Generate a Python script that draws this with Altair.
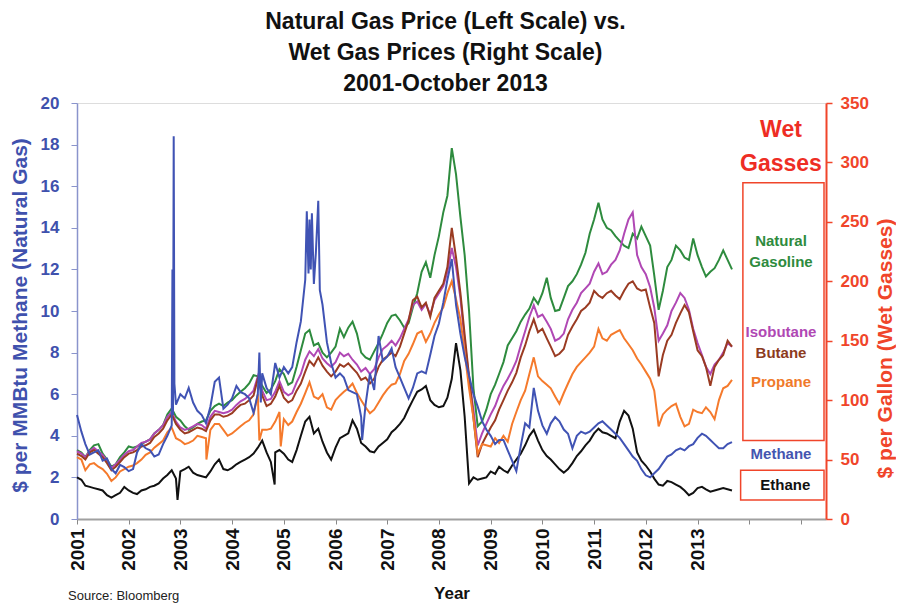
import altair as alt
import pandas as pd

# ---------------- data ----------------
# monthly observations, Jan 2001 .. Sep 2013
months = pd.date_range("2001-01-01", periods=153, freq="MS")

# $ per MMBtu (left scale)
methane = [
    5.0, 4.2, 3.6, 3.1, 3.2, 3.3, 2.8, 2.9, 2.4, 2.2,
    2.6, 2.5, 2.3, 2.4, 3.2, 3.6, 3.4, 3.3, 3.0, 3.1,
    3.6, 4.0, 4.5, 5.5, 6.0, 5.8, 6.3, 5.6, 5.2, 5.0,
    4.6, 5.4, 6.6, 6.8, 5.3, 5.5, 5.8, 6.4, 6.1, 6.0,
    5.8, 5.1, 6.0, 7.0, 6.3, 6.0, 7.5, 6.8, 7.3, 7.0,
    7.3, 8.5, 9.5, 11.5, 14.4, 11.3, 15.3, 10.3, 8.5, 7.5,
    6.8, 7.0, 6.8, 6.2, 6.1, 6.0, 4.9, 5.5, 7.0, 6.2,
    8.8, 7.6, 7.8, 8.2, 7.3, 6.8, 6.3, 5.8, 6.3, 7.0,
    7.1, 7.0, 7.9, 8.8, 9.4, 10.4, 11.5, 12.5, 10.3, 8.9,
    7.8, 6.9, 6.0, 5.4, 4.7, 4.3, 4.0, 3.6, 3.8, 3.8,
    3.3, 2.8, 2.3, 3.5, 4.6, 4.4, 6.3, 5.2, 4.5, 4.1,
    4.6, 4.9, 4.7, 4.3, 4.1, 3.4, 4.0, 4.2, 4.1, 4.2,
    4.4, 4.6, 4.7, 4.5, 4.3, 4.1, 3.9, 3.6, 3.3, 3.0,
    2.8, 2.4, 2.1, 2.0, 2.2, 2.4, 2.7, 3.0, 3.1, 3.3,
    3.4, 3.3, 3.5, 3.6, 3.9, 4.1, 4.0, 3.8, 3.6, 3.4,
    3.4, 3.6, 3.7,
]
methane_extra_dates = ["2002-11-06", "2002-11-10", "2002-11-15", "2002-11-20",
                       "2004-07-12", "2004-07-22", "2005-06-12", "2005-06-24",
                       "2005-07-10", "2005-07-18", "2005-08-15", "2005-09-12",
                       "2006-07-08"]
methane_extra_values = [12.0, 5.0, 18.4, 6.5,
                        8.0, 5.6, 14.8, 11.8,
                        12.0, 14.7, 12.8, 11.0,
                        3.8]

# cents per gallon (right scale)
ethane = [
    35, 33, 28, 27, 26, 25, 24, 20, 18, 20,
    22, 27, 24, 22, 21, 24, 25, 27, 28, 30,
    34, 37, 41, 34, 40, 42, 44, 39, 37, 36,
    35, 40, 46, 50, 42, 41, 43, 46, 48, 50,
    52, 55, 60, 66, 56, 48, 56, 58, 55, 50,
    48, 58, 70, 82, 86, 72, 76, 65, 56, 50,
    60, 68, 70, 72, 83, 76, 64, 61, 57, 56,
    61, 64, 67, 73, 76, 80, 85, 93, 100, 107,
    109, 112, 100, 96, 94, 95, 102, 118, 148, 125,
    86, 30, 35, 33, 34, 35, 40, 38, 44, 41,
    39, 45, 50, 55, 62, 70, 75, 66, 58, 53,
    50, 46, 42, 39, 42, 47, 53, 57, 62, 66,
    72, 76, 73, 72, 70, 68, 82, 91, 87, 76,
    56, 49, 45, 40, 34, 29, 28, 32, 31, 29,
    27, 24, 20, 22, 26, 27, 25, 23, 24, 25,
    26, 25, 24,
]
ethane_extra_dates = ["2002-12-12", "2004-10-28"]
ethane_extra_values = [16, 29]

propane = [
    52, 50, 41, 46, 47, 44, 42, 38, 32, 35,
    40, 42, 44, 45, 47, 50, 54, 56, 60, 63,
    66, 73, 77, 68, 66, 63, 64, 66, 70, 69,
    68, 75, 80, 80, 75, 70, 72, 75, 78, 81,
    83, 88, 105, 75, 75, 76, 82, 90, 84, 79,
    82, 90, 97, 106, 115, 103, 101, 105, 94, 92,
    100, 104, 107, 110, 114, 106, 100, 94, 89, 92,
    98, 104, 109, 113, 114, 122, 133, 139, 147, 156,
    158, 149, 156, 165, 172, 178, 190, 200, 185, 168,
    140, 110, 85, 55, 63, 62, 61, 68, 64, 70,
    65, 80, 90, 100, 108, 122, 136, 120, 116, 113,
    110, 103, 97, 106, 114, 122, 128, 132, 136, 140,
    145, 160, 152, 150, 155, 157, 159, 152, 147, 142,
    135, 130, 124, 118, 108, 78, 88, 92, 95, 97,
    86, 78, 80, 92, 90, 89, 94, 90, 84, 100,
    110, 112, 117,
]
propane_extra_dates = ["2003-07-04", "2004-07-12", "2004-12-10"]
propane_extra_values = [50, 66, 61]

butane = [
    55, 53, 50, 56, 58, 55, 52, 47, 41, 44,
    48, 52, 55, 56, 58, 61, 62, 64, 69, 72,
    76, 83, 88, 80, 75, 72, 73, 75, 77, 76,
    74, 83, 88, 88, 86, 87, 89, 93, 96, 97,
    100, 104, 118, 104, 95, 97, 103, 112, 102, 98,
    100, 108, 114, 124, 133, 129, 136, 129, 124, 120,
    124, 130, 128, 131, 127, 123, 117, 119, 114, 118,
    128, 134, 137, 140, 137, 145, 156, 167, 184, 187,
    178, 182, 170, 186, 192, 198, 212, 245, 220, 190,
    155, 120, 85, 52, 63, 70, 77, 83, 92, 100,
    108, 115, 123, 136, 146, 158, 168, 157, 160, 152,
    145, 137, 139, 143, 155, 162, 168, 175, 178, 182,
    192, 188, 186, 190, 192, 188, 185, 192, 198, 200,
    194, 192, 193, 178, 165, 120, 138, 150, 155, 165,
    173, 180, 174, 158, 142, 137, 128, 112, 128, 134,
    138, 150, 145,
]

isobutane = [
    57, 55, 52, 57, 60, 57, 54, 49, 43, 46,
    50, 54, 57, 58, 61, 64, 65, 67, 72, 75,
    79, 86, 90, 82, 77, 75, 76, 78, 80, 79,
    76, 86, 91, 90, 89, 90, 92, 96, 99, 101,
    104, 108, 120, 108, 100, 101, 107, 116, 107, 104,
    106, 115, 122, 134, 141, 137, 143, 135, 131, 128,
    132, 140, 137, 139, 134, 130, 124, 127, 122, 126,
    136, 143, 146, 150, 146, 152, 160, 168, 180, 183,
    176, 181, 172, 184, 190, 196, 208, 228, 212, 186,
    150, 118, 92, 62, 72, 80, 88, 95, 104, 112,
    118, 125, 133, 146, 158, 170, 180, 170, 172, 166,
    160, 150, 152, 156, 168, 176, 182, 190, 194, 198,
    208, 215, 206, 208, 214, 218, 226, 240, 252, 258,
    222, 212, 206, 195, 178, 150, 156, 163, 175, 182,
    190, 186, 176, 160, 148, 138, 128, 122, 130, 134,
    140, 148, 145,
]

natural_gasoline = [
    58, 56, 52, 58, 62, 63, 55, 50, 44, 46,
    52, 56, 61, 60, 61, 63, 65, 67, 72, 75,
    79, 88, 93, 86, 83, 78, 75, 77, 80, 82,
    83, 91, 95, 97, 95, 98, 100, 104, 107, 110,
    114, 121, 120, 112, 106, 109, 116, 126, 122, 113,
    115, 128, 142, 156, 159, 146, 148, 140, 136, 140,
    145, 160, 153, 161, 166, 156, 140, 136, 134, 141,
    148, 156, 165, 171, 172, 167, 161, 165, 178, 190,
    208, 216, 203, 222, 238, 258, 272, 312, 290, 254,
    222, 175, 110, 78, 82, 92, 105, 113, 122, 132,
    146, 152, 158, 166, 172, 177, 186, 181, 190, 203,
    186, 175, 176, 186, 196, 200, 206, 214, 224, 240,
    252, 266, 252, 245, 243, 238, 234, 230, 228, 240,
    236, 246, 238, 230, 205, 176, 192, 212, 218, 230,
    226, 220, 218, 236, 222, 212, 204, 208, 211, 218,
    226, 218, 210,
]

# legend-style labels on the right (right-scale positions)
label_texts = ["Natural", "Gasoline", "Isobutane", "Butane", "Propane", "Methane", "Ethane"]
label_values = [234, 216, 157, 140, 115, 55, 29]
label_dates = ["2014-08-13"] * 6 + ["2014-09-12"]
label_colors = ["#2e8b3e", "#2e8b3e", "#b048b4", "#8c3b1e", "#f07a2a", "#4455b0", "#111111"]

heading_texts = ["Wet", "Gasses"]
heading_values = [327, 299]

box_starts = ["2013-11-17", "2013-11-01"]
box_ends = ["2015-06-13", "2015-06-13"]
box_tops = [283, 41]
box_bottoms = [66, 16]

years = list(range(2001, 2016))

# ---------------- styling ----------------
BLUE = "#3f51ad"
RED = "#f0452a"
FONT = "Liberation Sans"


def frame(values, extra_dates=(), extra_values=()):
    d = pd.DataFrame({
        "date": list(months) + [pd.Timestamp(s) for s in extra_dates],
        "value": list(values) + list(extra_values),
    })
    return d.sort_values("date").reset_index(drop=True)


x_enc = alt.X(
    "date:T",
    scale=alt.Scale(domain=[alt.DateTime(year=2001, month=1, date=1),
                            alt.DateTime(year=2015, month=6, date=27)]),
    axis=alt.Axis(
        values=[alt.DateTime(year=y, month=1, date=1) for y in years],
        labelExpr="year(datum.value) <= 2013 ? timeFormat(datum.value, '%Y') : ''",
        labelAngle=-90, labelFont=FONT, labelFontWeight="bold", labelFontSize=19,
        labelColor="#111111", labelPadding=4, tickSize=5, tickColor="#888888",
        domainColor="#a0a0a0", domainWidth=2, grid=False,
        title="Year", titleFont=FONT, titleFontSize=17, titleFontWeight="bold",
        titleColor="#111111", titlePadding=15,
    ),
)

y_right = alt.Y(
    "value:Q",
    scale=alt.Scale(domain=[0, 350], nice=False),
    axis=alt.Axis(
        orient="right", values=list(range(0, 351, 50)), grid=False,
        labelFont=FONT, labelFontWeight="bold", labelFontSize=17, labelColor=RED,
        labelPadding=8, tickSize=6, tickColor=RED, tickWidth=1.5,
        domainColor=RED, domainWidth=2,
        title="$ per Gallon (Wet Gasses)", titleFont=FONT, titleFontSize=21,
        titleFontWeight="bold", titleColor=RED, titleAngle=270,
        titleBaseline="top", titlePadding=6, titleY=245,
    ),
)

y_left = alt.Y(
    "value:Q",
    scale=alt.Scale(domain=[0, 20], nice=False),
    axis=alt.Axis(
        orient="left", values=list(range(0, 21, 2)), grid=False,
        labelFont=FONT, labelFontWeight="bold", labelFontSize=17, labelColor=BLUE,
        labelPadding=12, tickSize=6, tickColor="#8a94cc",
        domainColor="#8a94cc", domainWidth=1.5,
        title="$ per MMBtu Methane (Natural Gas)", titleFont=FONT, titleFontSize=21,
        titleFontWeight="bold", titleColor=BLUE, titlePadding=10, titleY=212,
    ),
)


def wet_line(values, color, extra_dates=(), extra_values=()):
    return alt.Chart(frame(values, extra_dates, extra_values)).mark_line(
        color=color, strokeWidth=2, interpolate="linear"
    ).encode(x=x_enc, y=y_right)


green_line = wet_line(natural_gasoline, "#2e8b3e")
purple_line = wet_line(isobutane, "#b048b4")
brown_line = wet_line(butane, "#9a3b22")
orange_line = wet_line(propane, "#f57a2c", propane_extra_dates, propane_extra_values)
black_line = wet_line(ethane, "#111111", ethane_extra_dates, ethane_extra_values)

labels_df = pd.DataFrame({
    "date": [pd.Timestamp(s) for s in label_dates],
    "value": label_values, "text": label_texts, "color": label_colors,
})
labels = alt.Chart(labels_df).mark_text(
    font=FONT, fontWeight="bold", fontSize=15, align="center", baseline="middle"
).encode(x=x_enc, y=y_right, text="text:N", color=alt.Color("color:N", scale=None))

heading_df = pd.DataFrame({
    "date": [pd.Timestamp("2014-08-13")] * 2, "value": heading_values, "text": heading_texts,
})
heading = alt.Chart(heading_df).mark_text(
    font=FONT, fontWeight="bold", fontSize=23, align="center", baseline="middle", color="#ee2d24"
).encode(x=x_enc, y=y_right, text="text:N")

boxes_df = pd.DataFrame({
    "date": [pd.Timestamp(s) for s in box_starts],
    "date2": [pd.Timestamp(s) for s in box_ends],
    "value": box_tops, "value2": box_bottoms,
})
boxes = alt.Chart(boxes_df).mark_rect(
    filled=False, stroke=RED, strokeWidth=1.5
).encode(x=x_enc, x2="date2:T", y=y_right, y2="value2:Q")

wet = alt.layer(green_line, purple_line, brown_line, orange_line, black_line,
                boxes, labels, heading)

methane_line = alt.Chart(frame(methane, methane_extra_dates, methane_extra_values)).mark_line(
    color="#4053b4", strokeWidth=2
).encode(x=x_enc, y=y_left)

source = alt.Chart(pd.DataFrame({"t": ["Source: Bloomberg"]})).mark_text(
    font=FONT, fontSize=13, align="left", baseline="middle", color="#222222"
).encode(x=alt.value(-9), y=alt.value(493), text="t:N")

chart = alt.layer(wet, methane_line, source).resolve_scale(y="independent").properties(
    width=749, height=416,
    autosize=alt.AutoSizeParams(type="none"),
    padding={"left": 69, "top": 95, "right": 70, "bottom": 84},
    title=alt.TitleParams(
        text=["Natural Gas Price (Left Scale) vs.", "Wet Gas Prices (Right Scale)",
              "2001-October 2013"],
        font=FONT, fontSize=23, fontWeight="bold", color="#111111",
        anchor="middle", lineHeight=31, offset=-2, dx=-6,
    ),
).configure_view(stroke=None).configure(background="white")

chart.save("out.html", embed_options={"renderer": "svg", "actions": False})
